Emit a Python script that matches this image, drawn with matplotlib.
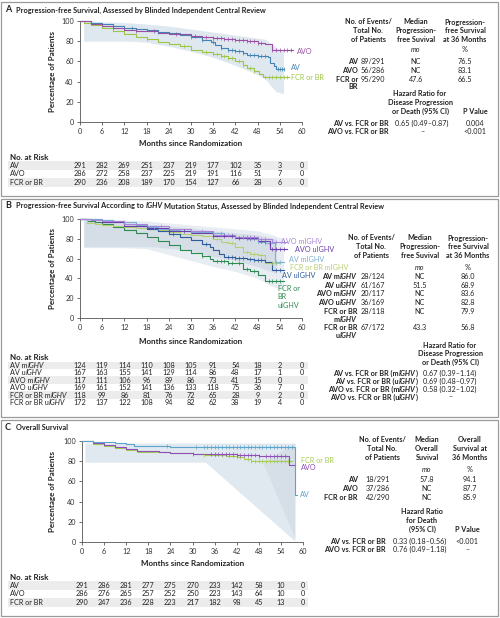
import numpy as np
import matplotlib
matplotlib.use('Agg')
import matplotlib.pyplot as plt
from matplotlib.transforms import blended_transform_factory
from matplotlib.patches import Rectangle

plt.rcParams['font.family'] = ['Lato', 'DejaVu Sans']

# ---------------- data ----------------
months_ticks = [0, 6, 12, 18, 24, 30, 36, 42, 48, 54, 60]

# panel A : PFS
av_a_t = [0, 3, 6, 9, 12, 15, 18, 21, 24, 27, 30, 33, 35.5, 36.5, 38, 40, 42, 44, 45, 48, 50.8, 51.3, 52.3, 53, 55]
av_a_s = [100, 98.5, 96.7, 95, 93.4, 92, 91, 89.5, 87.8, 86, 84.5, 81.5, 79.5, 76.5, 73, 71, 70, 68, 66, 65, 64.5, 58, 55, 52.5, 52.5]
avo_a_t = [0, 3, 6, 9, 12, 15, 18, 21, 24, 27, 30, 33, 36, 39, 42, 45, 48, 50, 51.8, 57.5]
avo_a_s = [100, 97.5, 95, 93, 91, 90.5, 90, 88.5, 87.5, 86.8, 85.5, 84.5, 83.5, 82, 81, 80, 78.5, 77, 71, 71]
fcr_a_t = [0, 1, 3, 6, 9, 12, 15, 18, 21, 24, 27, 30, 33, 36, 38, 40, 42, 44, 45, 47, 48.5, 49.5, 56.5]
fcr_a_s = [100, 98, 96, 93.4, 90, 86.8, 84.5, 82, 79.5, 77, 75, 71.5, 69.5, 67, 65.5, 63, 60, 56, 53.5, 50.5, 48, 45, 45]
cens_av_a = [14, 21, 30, 33, 36, 38, 40, 41, 42, 43, 44, 46, 47, 48, 49, 50, 53.5, 54, 54.5, 55]
cens_avo_a = [15, 20, 26, 31, 34, 36, 37, 38, 39, 40, 41, 42, 43, 44, 45, 46, 47, 48, 49, 52, 53, 54, 55, 56, 57]
cens_fcr_a = [18, 28, 34, 36, 37, 38, 39, 40, 41, 43, 44, 46, 47, 50, 51, 52, 53, 54, 55, 56]
band_a_t = [1, 14, 18, 24, 30, 36, 42, 46, 50, 51.5, 53, 55]
band_a_lo = [80, 80, 79, 75, 70, 64, 56, 50, 43, 36, 30, 28]
band_a_hi = [100, 98, 97, 95, 92, 89, 86, 84, 82, 78, 74, 70]

risk_a_labels = ['AV', 'AVO', 'FCR or BR']
risk_a = [[291, 282, 269, 251, 237, 219, 177, 102, 35, 3, 0],
          [286, 272, 258, 237, 225, 219, 191, 116, 51, 7, 0],
          [290, 236, 208, 189, 170, 154, 127, 66, 28, 6, 0]]
tab_a_groups = ['AV', 'AVO', 'FCR or\nBR']
tab_a_events = ['89/291', '56/286', '95/290']
tab_a_median = ['NC', 'NC', '47.6']
tab_a_pct = ['76.5', '83.1', '66.5']
tab_a_comp = ['AV vs. FCR or BR', 'AVO vs. FCR or BR']
tab_a_hr = ['0.65 (0.49–0.87)', '–']
tab_a_p = ['0.004', '<0.001']

# panel B : PFS by IGHV
avm_b_t = [0, 3, 6, 9, 12, 15, 18, 21, 24, 27, 30, 33, 36, 39, 42, 45, 48, 50, 52.7, 55]
avm_b_s = [100, 99.5, 99, 98, 97, 94, 92, 90, 89, 88, 87, 86.5, 86, 84, 82, 80, 77, 76, 57, 57]
avu_b_t = [0, 3, 6, 9, 12, 15, 18, 21, 24, 27, 30, 33, 35, 36, 37.5, 39, 42, 45, 47, 50, 52, 55]
avu_b_s = [100, 99.5, 98.7, 97, 95.3, 93, 90.3, 88, 85.3, 82, 78.7, 75, 72, 69, 65, 62, 61, 59.5, 58.5, 57, 48, 48]
avom_b_t = [0, 3, 6, 12, 18, 24, 30, 36, 42, 48, 52, 56]
avom_b_s = [100, 99, 98, 95, 93, 90, 88, 84, 82, 79.5, 77, 77]
avou_b_t = [0, 3, 6, 12, 18, 24, 30, 36, 42, 48, 51.4, 56]
avou_b_s = [100, 98.5, 97, 93, 90.5, 88, 85.5, 83, 81, 78, 70, 70]
fcrm_b_t = [0, 2, 4, 6, 9, 12, 15, 18, 21, 24, 27, 30, 33, 36, 38, 40, 42, 44, 46, 48, 50, 54]
fcrm_b_s = [100, 96, 94.5, 93.7, 92.5, 92, 91, 89.7, 88.5, 87, 85, 83.7, 82.5, 80, 77, 75.3, 72, 67, 65, 63.7, 55.3, 55.3]
fcru_b_t = [0, 2, 4, 6, 9, 12, 15, 18, 21, 24, 27, 30, 33, 35, 36, 40, 42, 44, 46, 48, 50, 55]
fcru_b_s = [100, 98, 96.5, 95.3, 92, 88.7, 85.5, 82, 78, 73.7, 69, 65.3, 63, 60, 57.7, 56, 55.3, 50, 47, 43.7, 37, 37]
cens_avm_b = [20, 30, 38, 41, 44, 46, 48, 50, 51, 53, 54]
cens_avu_b = [25, 34, 40, 41, 42, 43, 44, 46, 47, 48, 49, 53, 54]
cens_avom_b = [22, 33, 38, 40, 42, 44, 45, 46, 47, 48, 49, 50, 53, 55]
cens_avou_b = [28, 36, 39, 41, 43, 45, 46, 47, 49, 50, 52, 53, 54, 55]
cens_fcrm_b = [30, 37, 41, 45, 47, 49, 52, 53]
cens_fcru_b = [33, 37, 38, 39, 40, 41, 43, 45, 47, 51, 52, 53, 54]
band_b_t = [1, 12, 18, 24, 30, 36, 42, 48, 52, 55]
band_b_lo = [71, 71, 70, 64, 58, 52, 47, 40, 32, 28]
band_b_hi = [100, 99, 98, 96, 94, 92, 90, 88, 84, 80]
band_b2_t = [1, 20, 30, 36, 42, 48, 53]
band_b2_lo = [72, 72, 68, 62, 58, 52, 45]
band_b2_hi = [98, 94, 91, 88, 86, 84, 80]

risk_b_labels = [('AV m', 'IGHV'), ('AV u', 'IGHV'), ('AVO m', 'IGHV'), ('AVO u', 'IGHV'),
                 ('FCR or BR m', 'IGHV'), ('FCR or BR u', 'IGHV')]
risk_b = [[124, 119, 114, 110, 108, 105, 91, 54, 18, 2, 0],
          [167, 163, 155, 141, 129, 114, 86, 48, 17, 1, 0],
          [117, 111, 106, 96, 89, 86, 73, 41, 15, 0],
          [169, 161, 152, 141, 136, 133, 118, 75, 36, 7, 0],
          [118, 99, 86, 81, 76, 72, 65, 28, 9, 2, 0],
          [172, 137, 122, 108, 94, 82, 62, 38, 19, 4, 0]]
tab_b_groups = [[('AV m', 'IGHV')], [('AV u', 'IGHV')], [('AVO m', 'IGHV')], [('AVO u', 'IGHV')],
                [('FCR or BR', ''), ('m', 'IGHV')], [('FCR or BR', ''), ('u', 'IGHV')]]
tab_b_events = ['28/124', '61/167', '20/117', '36/169', '28/118', '67/172']
tab_b_median = ['NC', '51.5', 'NC', 'NC', 'NC', '43.3']
tab_b_pct = ['86.0', '68.9', '83.6', '82.8', '79.9', '56.8']
tab_b_comp = [('AV vs. FCR or BR (m', 'IGHV', ')'), ('AV vs. FCR or BR (u', 'IGHV', ')'),
              ('AVO vs. FCR or BR (m', 'IGHV', ')'), ('AVO vs. FCR or BR (u', 'IGHV', ')')]
tab_b_hr = ['0.67 (0.39–1.14)', '0.69 (0.48–0.97)', '0.58 (0.32–1.02)', '–']

# panel C : OS
av_c_t = [0, 3, 6, 9, 12, 14, 18, 24, 30, 36, 57.8, 58.3]
av_c_s = [100, 99.5, 99, 98, 97, 95, 94.8, 94.5, 94.2, 94, 46.5, 46.5]
avo_c_t = [0, 3, 6, 9, 12, 15, 18, 21, 24, 30, 36, 42, 48, 50, 56.2, 57.8]
avo_c_s = [100, 98, 96, 94, 92, 90.5, 90, 89, 88, 87.5, 87, 86.5, 85.5, 85, 76, 76]
fcr_c_t = [0, 3, 6, 9, 12, 15, 18, 24, 30, 33, 36, 39, 42, 44, 46, 48, 57]
fcr_c_s = [100, 97, 95, 93, 91, 89.5, 89, 88, 87, 86.5, 86, 85, 84, 82, 80.5, 80, 80]
cens_av_c = [23, 31, 33, 34, 35, 36, 37, 38, 39, 40, 41, 42, 43, 44, 45, 46, 47, 48, 49, 50, 51, 52, 53, 54, 55, 56, 57]
cens_avo_c = [30, 35, 36, 37, 38, 39, 40, 41, 42, 43, 44, 45, 46, 47, 48, 50, 51, 52, 53, 54, 55]
cens_fcr_c = [33, 36, 38, 40, 41, 42, 43, 45, 46, 47, 48, 49, 50, 51, 52, 53, 54, 55, 56]
band_c_t = [0.8, 33.5, 57.8]
band_c_lo = [79, 79, 1]
band_c_hi = [98, 98, 98]
band_c2_t = [49, 57.8]
band_c2_lo = [79, 4]
band_c2_hi = [79, 98]

risk_c_labels = ['AV', 'AVO', 'FCR or BR']
risk_c = [[291, 286, 281, 277, 275, 270, 233, 142, 58, 10, 0],
          [286, 276, 265, 257, 252, 250, 223, 143, 64, 10, 0],
          [290, 247, 236, 228, 223, 217, 182, 98, 45, 13, 0]]
tab_c_groups = ['AV', 'AVO', 'FCR or BR']
tab_c_events = ['18/291', '37/286', '42/290']
tab_c_median = ['57.8', 'NC', 'NC']
tab_c_pct = ['94.1', '87.7', '85.9']
tab_c_comp = ['AV vs. FCR or BR', 'AVO vs. FCR or BR']
tab_c_hr = ['0.33 (0.18–0.56)', '0.76 (0.49–1.18)']
tab_c_p = ['<0.001', '–']

# colours
c_av, c_avo, c_fcr = '#4283b4', '#9a4fa3', '#9cc744'
c_avm, c_avu = '#7cb0d6', '#2f5d9c'
c_avom, c_avou = '#a985d8', '#6a3ea8'
c_fcrm, c_fcru = '#b6cf72', '#2e8a50'
c_avc, c_avoc, c_fcrc = '#5ea3cc', '#8e50b8', '#a6cc52'
band_col = '#d8e2ec'
txt = '#222222'

# ---------------- helpers ----------------
W, H = 500, 618
fig = plt.figure(figsize=(5, 6.18), dpi=100)
fig.patch.set_facecolor('white')
renderer = fig.canvas.get_renderer()
FS = 5.2


def fx(x):
    return x / W


def fy(y):
    return 1 - y / H


def T(x, y, s, ha='left', weight='normal', style='normal', size=FS, color=txt):
    return fig.text(fx(x), fy(y), s, ha=ha, va='center', fontsize=size,
                    fontweight=weight, fontstyle=style, color=color)


def rich(x, y, parts, ha='left', weight='normal', size=FS, color=txt):
    # parts: list of (text, italic, space_before)
    probe = fig.text(0, 0, 'a a', fontsize=size, fontweight=weight)
    w1 = probe.get_window_extent(renderer).width
    probe.set_text('aa')
    sp = w1 - probe.get_window_extent(renderer).width
    probe.remove()
    ts, ws = [], []
    for s, it, gap in parts:
        t = fig.text(0, 0, s, fontsize=size, fontweight=weight, color=color,
                     fontstyle='italic' if it else 'normal', va='center', ha='left')
        ws.append(t.get_window_extent(renderer).width + (sp if gap else 0))
        ts.append((t, gap))
    total = sum(ws)
    cur = x if ha == 'left' else (x - total if ha == 'right' else x - total / 2)
    for (t, gap), w in zip(ts, ws):
        t.set_position((fx(cur + (sp if gap else 0)), fy(y)))
        cur += w


def add_axes_px(l, r, t, b):
    ax = fig.add_axes([fx(l), fy(b), (r - l) / W, (b - t) / H])
    ax.set_xlim(0, 60)
    ax.set_ylim(0, 100)
    ax.set_xticks(months_ticks)
    ax.set_yticks([0, 20, 40, 60, 80, 100])
    for s in ['top', 'right']:
        ax.spines[s].set_visible(False)
    for s in ['left', 'bottom']:
        ax.spines[s].set_color('#555555')
        ax.spines[s].set_linewidth(0.6)
    ax.tick_params(length=2.5, width=0.6, labelsize=FS, colors='#555555',
                   labelcolor='#333333', pad=2)
    ax.patch.set_alpha(0)
    return ax


def km(ax, t, s, color, cens):
    ax.step(t, s, where='post', color=color, lw=0.8, clip_on=False, zorder=3)
    t_arr = np.array(t)
    cy = [s[np.searchsorted(t_arr, c, side='right') - 1] for c in cens]
    ax.plot(cens, cy, ls='none', marker='|', ms=2.2, mew=0.5, color=color,
            clip_on=False, zorder=4)


def band(ax, t, lo, hi, color=band_col, alpha=0.8):
    ax.fill_between(t, lo, hi, color=color, alpha=alpha, lw=0, zorder=1)


def risk_table(ax, y0, dy, labels, rows, stripe_right=308):
    tr = blended_transform_factory(ax.transData, fig.transFigure)
    T(10, y0, 'No. at Risk', weight='bold', size=FS + 0.6)
    for i, (lab, vals) in enumerate(zip(labels, rows)):
        y = y0 + dy * (i + 1)
        if i % 2 == 0:
            fig.patches.append(Rectangle((fx(8), fy(y + dy / 2)), (stripe_right - 8) / W, dy / H,
                                         transform=fig.transFigure, color='#ececec', lw=0, zorder=-5))
        if isinstance(lab, tuple):
            rich(10, y, [(lab[0], False, False), (lab[1], True, False)])
        else:
            T(10, y, lab)
        for m, v in zip(months_ticks, vals):
            fig.text(m, fy(y), str(v), transform=tr, ha='center', va='center',
                     fontsize=FS, color=txt, zorder=5)


def panel_box(top, bottom):
    fig.patches.append(Rectangle((fx(1), fy(bottom)), 497 / W, (bottom - top) / H,
                                 transform=fig.transFigure, fill=False, ec='#9a9a9a', lw=0.9))


def axis_texts(ax_l, ax_r, ax_t, ax_b, xl_y):
    T((ax_l + ax_r) / 2, xl_y, 'Months since Randomization', ha='center', weight='bold', size=FS + 0.6)
    fig.text(fx(53), fy((ax_t + ax_b) / 2), 'Percentage of Patients', rotation=90,
             ha='center', va='center', fontsize=FS + 0.6, fontweight='bold', color=txt)


# ---------------- panel A ----------------
panel_box(2, 196)
T(5, 10, 'A', weight='bold', size=6.5)
T(16, 10, 'Progression-free Survival, Assessed by Blinded Independent Central Review', weight='bold', size=5.3)
axA = add_axes_px(80, 302, 21, 122)
band(axA, band_a_t, band_a_lo, band_a_hi)
km(axA, fcr_a_t, fcr_a_s, c_fcr, cens_fcr_a)
km(axA, av_a_t, av_a_s, c_av, cens_av_a)
km(axA, avo_a_t, avo_a_s, c_avo, cens_avo_a)
axA.text(58.6, 69.5, 'AVO', color=c_avo, fontsize=FS, va='center')
axA.text(57.0, 53.5, 'AV', color=c_av, fontsize=FS, va='center')
axA.text(57.0, 44.5, 'FCR or BR', color=c_fcr, fontsize=FS, va='center')
axis_texts(80, 302, 21, 122, 143)
risk_table(axA, 157, 8.5, risk_a_labels, risk_a)

for i, s in enumerate(['No. of Events/', 'Total No.', 'of Patients']):
    T(368, 22 + 8.5 * i, s, ha='center', weight='bold')
for i, s in enumerate(['Median', 'Progression-', 'free Suvival']):
    T(416, 22 + 8.5 * i, s, ha='center', weight='bold')
for i, s in enumerate(['Progression-', 'free Survival', 'at 36 Months']):
    T(465, 22 + 8.5 * i, s, ha='center', weight='bold')
T(416, 50, 'mo', ha='center', style='italic')
T(465, 50, '%', ha='center')
for i in range(3):
    y = 62 + 8.5 * i
    for k, line in enumerate(tab_a_groups[i].split('\n')):
        T(358, y + 7.8 * k, line, ha='right', weight='bold')
    T(361, y, tab_a_events[i])
    T(416, y, tab_a_median[i], ha='center')
    T(465, y, tab_a_pct[i], ha='center')
for i, s in enumerate(['Hazard Ratio for', 'Disease Progression', 'or Death (95% CI)']):
    T(420, 94 + 8.5 * i, s, ha='center', weight='bold')
T(475, 111, 'P Value', ha='center', weight='bold')
for i in range(2):
    y = 123 + 8.5 * i
    T(389, y, tab_a_comp[i], ha='right', weight='bold')
    T(422, y, tab_a_hr[i], ha='center')
    T(475, y, tab_a_p[i], ha='center')

# ---------------- panel B ----------------
panel_box(199, 417)
T(5, 206, 'B', weight='bold', size=6.5)
rich(16, 206, [('Progression-free Survival According to', False, False), ('IGHV', True, True),
               ('Mutation Status, Assessed by Blinded Independent Central Review', False, True)],
     weight='bold', size=5.3)
axB = add_axes_px(80, 302, 219, 318)
band(axB, band_b_t, band_b_lo, band_b_hi, alpha=0.6)
band(axB, band_b2_t, band_b2_lo, band_b2_hi, color='#c9d3de', alpha=0.6)
km(axB, fcru_b_t, fcru_b_s, c_fcru, cens_fcru_b)
km(axB, fcrm_b_t, fcrm_b_s, c_fcrm, cens_fcrm_b)
km(axB, avu_b_t, avu_b_s, c_avu, cens_avu_b)
km(axB, avm_b_t, avm_b_s, c_avm, cens_avm_b)
km(axB, avou_b_t, avou_b_s, c_avou, cens_avou_b)
km(axB, avom_b_t, avom_b_s, c_avom, cens_avom_b)
for (x, y, s, c) in [(54.2, 77, 'AVO mIGHV', c_avom), (58.2, 69, 'AVO uIGHV', c_avou),
                     (56.4, 59, 'AV mIGHV', c_avm), (56.8, 51, 'FCR or BR mIGHV', c_fcrm),
                     (54.6, 43, 'AV uIGHV', c_avu)]:
    axB.text(x, y, s, color=c, fontsize=FS, va='center')
for k, s in enumerate(['FCR or', 'BR', 'uIGHV']):
    axB.text(53.4, 30 - 8.5 * k, s, color=c_fcru, fontsize=FS, va='center')
axis_texts(80, 302, 219, 318, 341)
risk_table(axB, 358, 7.4, risk_b_labels, risk_b)

for i, s in enumerate(['No. of Events/', 'Total No.', 'of Patients']):
    T(371, 238 + 8.5 * i, s, ha='center', weight='bold')
for i, s in enumerate(['Median', 'Progression-', 'free Suvival']):
    T(420, 238 + 8.5 * i, s, ha='center', weight='bold')
for i, s in enumerate(['Progression-', 'free Survival', 'at 36 Months']):
    T(468, 238 + 8.5 * i, s, ha='center', weight='bold')
T(420, 267, 'mo', ha='center', style='italic')
T(468, 267, '%', ha='center')
row_y_b = [277, 285.5, 294, 302.5, 311, 328]
for i in range(6):
    y = row_y_b[i]
    for k, (a, b) in enumerate(tab_b_groups[i]):
        parts = [(a, False, False)]
        if b:
            parts.append((b, True, False))
        rich(357, y + 8 * k, parts, ha='right', weight='bold')
    T(361, y, tab_b_events[i])
    T(420, y, tab_b_median[i], ha='center')
    T(468, y, tab_b_pct[i], ha='center')
for i, s in enumerate(['Hazard Ratio for', 'Disease Progression', 'or Death (95% CI)']):
    T(450, 345 + 8.5 * i, s, ha='center', weight='bold')
for i in range(4):
    y = 373 + 8 * i
    a, b, c = tab_b_comp[i]
    rich(418, y, [(a, False, False), (b, True, False), (c, False, False)], ha='right', weight='bold')
    T(450, y, tab_b_hr[i], ha='center')

# ---------------- panel C ----------------
panel_box(420, 616)
T(5, 427, 'C', weight='bold', size=6.5)
T(16, 427, 'Overall Survival', weight='bold', size=5.3)
axC = add_axes_px(82, 303, 441, 542)
band(axC, band_c_t, band_c_lo, band_c_hi, alpha=0.75)
band(axC, band_c2_t, band_c2_lo, band_c2_hi, color='#cfd9e4', alpha=0.6)
km(axC, fcr_c_t, fcr_c_s, c_fcrc, cens_fcr_c)
km(axC, avo_c_t, avo_c_s, c_avoc, cens_avo_c)
km(axC, av_c_t, av_c_s, c_avc, cens_av_c)
axC.text(59.5, 81, 'FCR or BR', color=c_fcrc, fontsize=FS, va='center')
axC.text(59.5, 74, 'AVO', color=c_avoc, fontsize=FS, va='center')
axC.text(59.3, 47, 'AV', color=c_avc, fontsize=FS, va='center')
axis_texts(82, 303, 441, 542, 564)
risk_table(axC, 577, 8.5, risk_c_labels, risk_c)

for i, s in enumerate(['No. of Events/', 'Total No.', 'of Patients']):
    T(382, 440 + 8.5 * i, s, ha='center', weight='bold')
for i, s in enumerate(['Median', 'Overall', 'Suvival']):
    T(427, 440 + 8.5 * i, s, ha='center', weight='bold')
for i, s in enumerate(['Overall', 'Survival at', '36 Months']):
    T(470, 440 + 8.5 * i, s, ha='center', weight='bold')
T(427, 470, 'mo', ha='center', style='italic')
T(470, 470, '%', ha='center')
for i in range(3):
    y = 480 + 8.5 * i
    T(358, y, tab_c_groups[i], ha='right', weight='bold')
    T(378, y, tab_c_events[i], ha='center')
    T(427, y, tab_c_median[i], ha='center')
    T(470, y, tab_c_pct[i], ha='center')
for i, s in enumerate(['Hazard Ratio', 'for Death', '(95% CI)']):
    T(422, 512 + 8.5 * i, s, ha='center', weight='bold')
T(467, 529, 'P Value', ha='center', weight='bold')
for i in range(2):
    y = 541 + 8.5 * i
    T(386, y, tab_c_comp[i], ha='right', weight='bold')
    T(420, y, tab_c_hr[i], ha='center')
    T(467, y, tab_c_p[i], ha='center')

fig.savefig('out.png', dpi=100, facecolor='white')
